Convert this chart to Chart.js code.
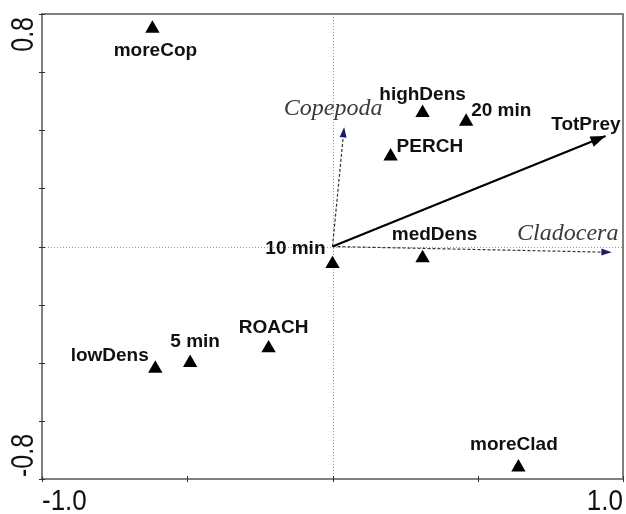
<!DOCTYPE html>
<html>
<head>
<meta charset="utf-8">
<script src="https://cdn.jsdelivr.net/npm/chart.js@4/dist/chart.umd.min.js"></script>
<style>
  html, body { margin: 0; padding: 0; background: #ffffff; }
  canvas { display: block; }
</style>
</head>
<body>
<canvas id="ord" width="626" height="514"></canvas>
<script>
// Sample scores on the first two ordination axes
const siteNames = ['moreCop', 'highDens', '20 min', 'PERCH', '10 min', 'medDens', 'ROACH', '5 min', 'lowDens', 'moreClad'];
const siteX = [-0.62, 0.31, 0.46, 0.20, 0.00, 0.31, -0.22, -0.49, -0.61, 0.64];
const siteY = [0.75, 0.46, 0.43, 0.31, -0.06, -0.04, -0.35, -0.40, -0.42, -0.76];

// Response variable vectors (arrow tips, all starting at the origin)
const vectorNames = ['TotPrey', 'Copepoda', 'Cladocera'];
const vectorX = [0.94, 0.04, 0.96];
const vectorY = [0.38, 0.41, -0.02];

// Axis ticks and the labels printed at the axis ends
const xTicks = [-1.0, -0.5, 0.0, 0.5, 1.0];
const yTicks = [-0.8, -0.6, -0.4, -0.2, 0.0, 0.2, 0.4, 0.6, 0.8];
const xTickLabels = ['-1.0', '1.0'];
const yTickLabels = ['-0.8', '0.8'];

// Label placement: pixel offset from the marker and text alignment
const siteLabelPlacement = [
  [3, 27, 'center'], [0, -13, 'center'], [5, -6, 'left'], [6, -4.5, 'left'],
  [-7, -10, 'right'], [12, -18, 'center'], [5, -15.5, 'center'], [5, -16, 'center'],
  [-6.5, -8, 'right'], [-4.5, -17, 'center']
];
const vectorLabelPlacement = [[15, -6, 'right'], [-11, -12, 'center'], [7, -12, 'right']];
const vectorStyle = [
  { line: '#000000', head: '#000000', width: 2.2, dash: [], headLen: 15, headHalf: 5.5 },
  { line: '#333333', head: '#1b1b6e', width: 1.2, dash: [3, 2], headLen: 10, headHalf: 3.5 },
  { line: '#333333', head: '#1b1b6e', width: 1.2, dash: [3, 2], headLen: 10, headHalf: 3.5 }
];

const sitePoints = siteNames.map((n, i) => ({ x: siteX[i], y: siteY[i] }));

const vectorDatasets = vectorNames.map((n, i) => ({
  label: n,
  type: 'line',
  data: [{ x: 0, y: 0 }, { x: vectorX[i], y: vectorY[i] }],
  borderColor: vectorStyle[i].line,
  borderWidth: vectorStyle[i].width,
  borderDash: vectorStyle[i].dash,
  pointRadius: 0,
  fill: false,
  tension: 0,
  clip: false
}));

function stretchedText(ctx, text, x, y, align, rotate, sy) {
  ctx.save();
  ctx.translate(x, y);
  if (rotate) ctx.rotate(-Math.PI / 2);
  ctx.scale(1, sy);
  ctx.textAlign = align;
  ctx.textBaseline = 'alphabetic';
  ctx.fillText(text, 0, 0);
  ctx.restore();
}

const ordinationDecor = {
  id: 'ordinationDecor',
  beforeDatasetsDraw(chart) {
    const { ctx, chartArea: a, scales: { x, y } } = chart;
    ctx.save();
    // dotted zero lines
    ctx.strokeStyle = '#9a9a9a';
    ctx.lineWidth = 1;
    ctx.setLineDash([1, 2]);
    const x0 = Math.round(x.getPixelForValue(0)) + 0.5;
    const y0 = Math.round(y.getPixelForValue(0)) + 0.5;
    ctx.beginPath();
    ctx.moveTo(x0, a.top); ctx.lineTo(x0, a.bottom);
    ctx.moveTo(a.left, y0); ctx.lineTo(a.right, y0);
    ctx.stroke();
    ctx.setLineDash([]);
    // frame
    ctx.strokeStyle = '#808080';
    ctx.lineWidth = 2;
    ctx.strokeRect(a.left, a.top, a.right - a.left, a.bottom - a.top);
    // tick marks crossing the axes
    ctx.strokeStyle = '#333333';
    ctx.lineWidth = 1;
    ctx.beginPath();
    yTicks.forEach(v => {
      const py = Math.round(y.getPixelForValue(v)) + 0.5;
      ctx.moveTo(a.left - 3, py); ctx.lineTo(a.left + 3, py);
    });
    xTicks.forEach(v => {
      const px = Math.round(x.getPixelForValue(v)) + 0.5;
      ctx.moveTo(px, a.bottom - 3); ctx.lineTo(px, a.bottom + 3);
    });
    ctx.stroke();
    // end labels of the axes
    ctx.fillStyle = '#111111';
    ctx.font = '26px "Liberation Sans", Arial, sans-serif';
    stretchedText(ctx, xTickLabels[0], x.getPixelForValue(-1.0), 510, 'left', false, 1.15);
    stretchedText(ctx, xTickLabels[1], x.getPixelForValue(1.0), 510, 'right', false, 1.15);
    ctx.font = '25px "Liberation Sans", Arial, sans-serif';
    stretchedText(ctx, yTickLabels[0], 33, y.getPixelForValue(-0.8) - 2, 'left', true, 1.25);
    stretchedText(ctx, yTickLabels[1], 33, y.getPixelForValue(0.8) + 3, 'right', true, 1.25);
    ctx.restore();
  },
  afterDatasetsDraw(chart) {
    const { ctx, scales: { x, y } } = chart;
    ctx.save();
    // arrowheads and vector names
    vectorNames.forEach((n, i) => {
      const s = vectorStyle[i];
      const ox = x.getPixelForValue(0), oy = y.getPixelForValue(0);
      const tx = x.getPixelForValue(vectorX[i]), ty = y.getPixelForValue(vectorY[i]);
      const ang = Math.atan2(ty - oy, tx - ox);
      const bx = tx - Math.cos(ang) * s.headLen, by = ty - Math.sin(ang) * s.headLen;
      ctx.fillStyle = s.head;
      ctx.beginPath();
      ctx.moveTo(tx, ty);
      ctx.lineTo(bx + Math.sin(ang) * s.headHalf, by - Math.cos(ang) * s.headHalf);
      ctx.lineTo(bx - Math.sin(ang) * s.headHalf, by + Math.cos(ang) * s.headHalf);
      ctx.closePath();
      ctx.fill();
      const p = vectorLabelPlacement[i];
      ctx.textAlign = p[2];
      ctx.textBaseline = 'alphabetic';
      if (i === 0) {
        ctx.fillStyle = '#111111';
        ctx.font = 'bold 19px "Liberation Sans", Arial, sans-serif';
      } else {
        ctx.fillStyle = '#3a3a3a';
        ctx.font = 'italic 24px "Liberation Serif", "Times New Roman", serif';
      }
      ctx.fillText(n, tx + p[0], ty + p[1]);
    });
    // sample names
    ctx.fillStyle = '#111111';
    ctx.font = 'bold 19px "Liberation Sans", Arial, sans-serif';
    ctx.textBaseline = 'alphabetic';
    siteNames.forEach((n, i) => {
      const p = siteLabelPlacement[i];
      ctx.textAlign = p[2];
      ctx.fillText(n, x.getPixelForValue(siteX[i]) + p[0], y.getPixelForValue(siteY[i]) + p[1]);
    });
    ctx.restore();
  }
};

new Chart(document.getElementById('ord'), {
  type: 'scatter',
  data: {
    datasets: [
      ...vectorDatasets,
      {
        label: 'samples',
        data: sitePoints,
        pointStyle: 'triangle',
        pointRadius: 8.3,
        pointHoverRadius: 8.3,
        backgroundColor: '#000000',
        borderColor: '#000000',
        borderWidth: 0,
        clip: false
      }
    ]
  },
  options: {
    responsive: false,
    animation: false,
    devicePixelRatio: 1,
    layout: { autoPadding: false, padding: { left: 42, right: 3, top: 14, bottom: 35 } },
    plugins: { legend: { display: false }, tooltip: { enabled: false } },
    scales: {
      x: { type: 'linear', min: -1.0, max: 1.0, display: false },
      y: { type: 'linear', min: -0.8, max: 0.8, display: false }
    }
  },
  plugins: [ordinationDecor]
});
</script>
</body>
</html>
